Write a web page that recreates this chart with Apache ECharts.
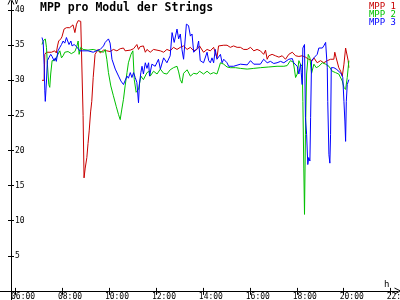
<!DOCTYPE html>
<html><head><meta charset="utf-8">
<script src="https://cdn.jsdelivr.net/npm/echarts@6/dist/echarts.min.js"></script>
<style>html,body{margin:0;padding:0;background:#fff}#c{width:400px;height:300px}</style>
</head><body><div id="c"></div>
<script>
const chartTitle = 'MPP pro Modul der Strings';
const seriesNames = ['MPP 1', 'MPP 2', 'MPP 3'];
const seriesColors = ['#c80000', '#00c000', '#0000ff'];
const xTickHours = [6, 8, 10, 12, 14, 16, 18, 20, 22];
const xTickLabels = ['06:00', '08:00', '10:00', '12:00', '14:00', '16:00', '18:00', '20:00', '22:00'];
const yTickValues = [5, 10, 15, 20, 25, 30, 35, 40];
const xUnit = 'h';
const yUnit = 'V';

// time in decimal hours
const mpp1Times = [7.15,7.24,7.27,7.34,7.41,7.55,7.69,7.76,7.81,7.86,7.95,8.00,8.09,8.19,8.33,8.40,8.47,8.55,8.62,8.69,8.80,8.85,8.90,8.94,8.99,9.06,9.11,9.16,9.22,9.27,9.33,9.41,9.54,9.63,9.77,9.91,10.05,10.19,10.34,10.48,10.62,10.69,10.77,10.91,11.05,11.19,11.26,11.33,11.47,11.55,11.62,11.76,11.90,11.97,12.19,12.33,12.47,12.61,12.75,12.90,13.04,13.18,13.33,13.47,13.61,13.75,13.86,14.03,14.18,14.32,14.46,14.60,14.67,14.75,14.89,15.03,15.17,15.31,15.46,15.60,15.74,15.89,16.03,16.17,16.31,16.45,16.59,16.67,16.74,16.81,16.95,17.09,17.24,17.38,17.52,17.66,17.81,17.95,18.09,18.23,18.37,18.51,18.66,18.73,18.87,19.01,19.15,19.30,19.44,19.58,19.62,19.68,19.79,19.87,19.94,20.01,20.08,20.15,20.19,20.22];
const mpp1Values = [30.0,30.0,33.7,34.0,33.8,34.0,34.2,33.9,34.9,35.6,35.9,36.2,37.3,37.5,37.5,37.7,37.9,36.8,38.0,38.5,38.4,38.4,25.0,16.1,17.5,19.0,21.0,22.8,25.5,27.0,30.4,33.7,34.4,33.9,34.3,34.2,34.1,34.4,34.2,34.5,34.6,34.2,34.4,34.3,34.5,35.1,34.4,34.8,34.9,34.0,34.4,34.0,34.4,34.6,34.2,34.0,34.4,34.2,34.7,34.4,34.7,34.9,34.4,34.7,34.2,34.4,34.9,34.0,34.4,34.2,34.7,33.2,34.9,35.1,35.0,35.0,34.7,34.9,34.7,34.7,34.4,34.4,34.7,34.2,34.4,34.2,33.7,34.3,33.0,33.5,33.7,33.5,33.3,33.5,33.0,33.7,34.0,33.5,33.4,33.5,33.3,33.0,32.8,33.2,32.5,32.8,32.5,32.8,33.0,33.0,34.0,33.2,31.8,31.3,30.6,32.3,34.6,34.4,32.8,31.8];

const mpp2Times = [7.15,7.20,7.29,7.34,7.38,7.44,7.48,7.52,7.58,7.69,7.76,7.83,7.91,7.98,8.05,8.12,8.26,8.40,8.55,8.62,8.69,8.73,8.80,8.90,9.11,9.33,9.54,9.77,9.84,9.91,9.98,10.08,10.19,10.31,10.41,10.48,10.55,10.62,10.69,10.77,10.83,10.94,11.02,11.08,11.16,11.26,11.36,11.47,11.62,11.73,11.76,11.90,12.05,12.19,12.33,12.47,12.61,12.75,12.90,12.97,13.04,13.11,13.18,13.33,13.47,13.61,13.75,13.86,14.03,14.18,14.32,14.46,14.60,14.67,14.75,14.89,15.03,15.17,15.39,15.60,15.89,16.17,16.45,16.81,17.16,17.45,17.59,17.73,17.85,17.90,17.95,18.02,18.09,18.16,18.23,18.26,18.30,18.33,18.37,18.42,18.49,18.56,18.63,18.73,18.83,18.94,19.09,19.23,19.37,19.51,19.65,19.79,19.94,20.01,20.08,20.15,20.22];
const mpp2Values = [35.1,35.6,35.9,34.7,32.3,29.4,29.0,30.9,32.8,32.8,33.2,33.7,34.2,33.2,33.5,34.0,34.1,33.8,34.1,34.7,35.6,33.7,34.7,34.4,34.3,34.4,34.2,34.0,34.4,33.0,31.1,29.2,27.8,26.3,25.1,24.4,25.9,27.3,29.2,31.1,32.5,33.7,34.2,30.1,28.3,28.7,30.6,30.1,31.1,31.3,30.6,31.3,30.9,31.6,31.0,30.9,31.5,31.8,32.0,31.2,30.1,29.6,31.0,31.5,30.6,31.0,30.9,31.3,30.9,31.3,30.9,31.1,30.9,31.6,32.5,32.3,31.9,31.8,31.8,31.7,31.6,31.7,31.8,31.9,32.0,32.0,32.1,32.8,32.6,31.6,30.4,30.9,32.8,32.3,32.0,27.0,17.5,10.9,22.3,30.9,33.7,33.2,31.0,32.3,31.8,32.0,32.5,32.3,32.0,31.3,31.1,30.9,29.9,29.0,28.7,30.4,32.8];

const mpp3Times = [7.15,7.20,7.24,7.27,7.29,7.34,7.38,7.44,7.52,7.58,7.66,7.72,7.76,7.83,7.91,7.98,8.05,8.12,8.19,8.26,8.30,8.38,8.43,8.52,8.62,8.69,8.76,8.80,8.94,9.11,9.33,9.54,9.63,9.77,9.84,9.98,10.05,10.13,10.27,10.41,10.51,10.62,10.69,10.77,10.83,10.91,10.98,11.05,11.12,11.19,11.26,11.30,11.36,11.41,11.47,11.55,11.62,11.69,11.73,11.83,11.97,12.11,12.19,12.33,12.47,12.61,12.69,12.78,12.90,12.97,13.04,13.11,13.18,13.30,13.39,13.47,13.54,13.61,13.68,13.75,13.82,13.89,13.97,14.03,14.11,14.18,14.25,14.32,14.39,14.46,14.53,14.60,14.75,14.82,14.89,15.03,15.10,15.31,15.60,15.89,16.03,16.17,16.45,16.59,16.74,16.88,17.02,17.16,17.31,17.45,17.66,17.81,17.87,17.95,18.02,18.09,18.16,18.19,18.23,18.26,18.33,18.37,18.42,18.47,18.51,18.56,18.59,18.63,18.73,18.87,18.94,19.09,19.15,19.23,19.27,19.30,19.32,19.37,19.41,19.44,19.47,19.58,19.68,19.79,19.90,19.96,20.01,20.05,20.08,20.11,20.15,20.22];
const mpp3Values = [36.1,35.5,32.3,28.5,27.0,29.9,32.8,33.2,33.7,33.4,32.8,33.2,32.7,34.2,34.7,35.1,35.6,35.3,36.1,36.2,35.1,35.6,34.9,35.1,34.8,34.7,34.2,34.4,34.2,34.2,34.0,34.3,34.4,34.9,35.4,35.9,35.3,33.0,31.6,30.6,29.9,29.4,29.2,30.6,30.3,31.1,30.4,31.1,30.4,29.7,26.8,29.5,31.1,32.0,30.9,32.5,31.7,32.5,30.6,32.3,32.0,33.0,31.6,33.2,32.5,33.5,36.8,35.4,37.3,35.9,36.6,34.4,33.0,38.0,37.8,36.3,36.6,34.0,34.2,34.5,35.6,32.8,32.8,32.5,32.6,34.0,32.8,32.5,33.2,32.5,34.4,33.0,33.7,32.5,33.0,32.5,32.0,32.0,32.3,32.2,32.8,32.3,32.3,33.0,32.5,32.7,32.4,32.5,32.7,32.5,33.0,33.1,32.5,32.3,32.0,30.9,32.3,31.1,29.4,34.6,35.1,24.7,22.3,18.0,19.0,18.5,24.7,32.8,33.2,33.7,34.6,34.6,34.9,35.4,35.5,31.8,27.0,19.4,18.2,22.3,31.8,31.8,31.6,31.3,30.9,30.4,27.0,24.2,21.3,27.0,29.4,30.1];

const seriesTimes = [mpp1Times, mpp2Times, mpp3Times];
const seriesValues = [mpp1Values, mpp2Values, mpp3Values];

const monoFont = '"DejaVu Sans Mono", "Liberation Mono", monospace';
const chart = echarts.init(document.getElementById('c'));

const arrowPath = 'path://M0,10 L5,0 L10,10 L8.6,10 L5,2.8 L1.4,10 Z';

chart.setOption({
  animation: false,
  backgroundColor: '#ffffff',
  title: {
    text: chartTitle, left: 35, top: -3,
    textStyle: { fontFamily: monoFont, fontWeight: 'bold', fontSize: 11.5, color: '#000' }
  },
  legend: {
    orient: 'vertical', right: -1, top: -3, itemGap: -1, itemWidth: 0, itemHeight: 7,
    icon: 'none', selectedMode: false,
    data: seriesNames.map((n, i) => ({ name: n, textStyle: { color: seriesColors[i] } })),
    textStyle: { fontFamily: monoFont, fontSize: 9, lineHeight: 8, padding: 0 }
  },
  grid: { left: 0, right: 2, top: 1, bottom: 0, containLabel: false, outerBoundsMode: 'none' },
  xAxis: [{
    type: 'value', min: 5.361, max: 22.312, offset: -9,
    axisLine: { lineStyle: { color: '#000', width: 1 }, symbol: ['none', arrowPath], symbolSize: [7, 7] },
    axisTick: { show: true, inside: false, length: 4, customValues: xTickHours, lineStyle: { color: '#000' } },
    axisLabel: {
      customValues: xTickHours, align: 'left', margin: 2, padding: [0, 0, 0, -4],
      fontFamily: monoFont, fontSize: 8, color: '#000', hideOverlap: false,
      formatter: v => xTickLabels[xTickHours.indexOf(Math.round(v))]
    },
    splitLine: { show: false },
    name: xUnit, nameLocation: 'end', nameGap: -14,
    nameTextStyle: { fontFamily: monoFont, fontSize: 9, color: '#000', verticalAlign: 'bottom', padding: [0, 0, 2, 0] }
  }, {
    type: 'value', min: 5.361, max: 22.312, offset: -9, position: 'bottom',
    axisLine: { show: false },
    axisTick: { show: true, inside: true, length: 3, customValues: xTickHours, lineStyle: { color: '#000' } },
    axisLabel: { show: false }, splitLine: { show: false }
  }],
  yAxis: [{
    type: 'value', min: -1.296, max: 41.3, offset: -11, position: 'left',
    axisLine: { show: true, lineStyle: { color: '#000', width: 1 }, symbol: ['none', arrowPath], symbolSize: [7, 7] },
    axisTick: { show: true, inside: false, length: 3, customValues: yTickValues, lineStyle: { color: '#000' } },
    axisLabel: { inside: true, margin: 4, customValues: yTickValues, fontFamily: monoFont, fontSize: 8, color: '#000' },
    splitLine: { show: false },
    name: yUnit, nameLocation: 'end', nameGap: -7,
    nameTextStyle: { fontFamily: monoFont, fontSize: 8, color: '#000', align: 'left', verticalAlign: 'top', padding: [0, 0, 0, 3] }
  }, {
    type: 'value', min: -1.296, max: 41.3, offset: -11, position: 'left',
    axisLine: { show: false },
    axisTick: { show: true, inside: true, length: 3, customValues: yTickValues, lineStyle: { color: '#000' } },
    axisLabel: { show: false }, splitLine: { show: false }
  }],
  series: seriesNames.map((n, i) => ({
    name: n, type: 'line', xAxisIndex: 0, yAxisIndex: 0,
    showSymbol: false, symbol: 'none',
    color: seriesColors[i],
    lineStyle: { width: 1, color: seriesColors[i] },
    data: seriesTimes[i].map((t, j) => [t, seriesValues[i][j]])
  }))
});
</script>
</body></html>
